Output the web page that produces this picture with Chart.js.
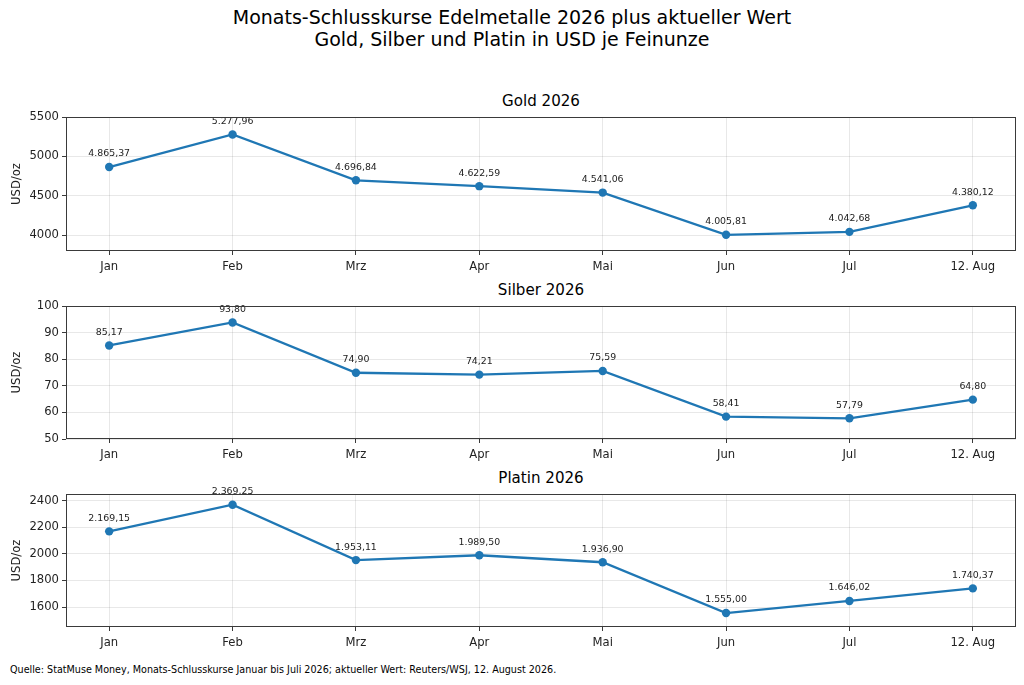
<!DOCTYPE html>
<html>
<head>
<meta charset="utf-8">
<script src="https://cdn.jsdelivr.net/npm/chart.js@4.4.1/dist/chart.umd.min.js"></script>
<style>
  html, body { margin:0; padding:0; background:#fff; }
  body { width:1024px; height:685px; position:relative; overflow:hidden; font-family:"DejaVu Sans", sans-serif; color:#000; }
  .txt { position:absolute; white-space:nowrap; line-height:1; }
  canvas { position:absolute; left:0; }
</style>
</head>
<body>
<div class="txt" style="left:0;width:1024px;text-align:center;top:8px;font-size:19px;">Monats-Schlusskurse Edelmetalle 2026 plus aktueller Wert</div>
<div class="txt" style="left:0;width:1024px;text-align:center;top:30px;font-size:19px;">Gold, Silber und Platin in USD je Feinunze</div>
<div class="txt" style="left:66px;width:950px;text-align:center;top:94px;font-size:15.1px;">Gold 2026</div>
<div class="txt" style="left:66px;width:950px;text-align:center;top:283px;font-size:15.1px;">Silber 2026</div>
<div class="txt" style="left:66px;width:950px;text-align:center;top:471px;font-size:15.1px;">Platin 2026</div>
<div class="txt" style="left:10px;top:665px;font-size:9.6px;">Quelle: StatMuse Money, Monats-Schlusskurse Januar bis Juli 2026; aktueller Wert: Reuters/WSJ, 12. August 2026.</div>

<canvas id="c1"></canvas>
<canvas id="c2"></canvas>
<canvas id="c3"></canvas>

<script>
// ---- data ----
const categories = ["Jan", "Feb", "Mrz", "Apr", "Mai", "Jun", "Jul", "12. Aug"];
const gold   = [4865.37, 5277.96, 4696.84, 4622.59, 4541.06, 4005.81, 4042.68, 4380.12];
const silber = [85.17, 93.80, 74.90, 74.21, 75.59, 58.41, 57.79, 64.80];
const platin = [2169.15, 2369.25, 1953.11, 1989.50, 1936.90, 1555.00, 1646.02, 1740.37];
const goldTicks   = [4000, 4500, 5000, 5500];
const silberTicks = [50, 60, 70, 80, 90, 100];
const platinTicks = [1600, 1800, 2000, 2200, 2400];

function fmtDE(v) {
  const parts = v.toFixed(2).split(".");
  parts[0] = parts[0].replace(/\B(?=(\d{3})+(?!\d))/g, ".");
  return parts[0] + "," + parts[1];
}

const PAD_TOP = 24, X_AXIS_H = 34, Y_AXIS_W = 66, RIGHT = 8;
const TICK_FONT = { family: "DejaVu Sans", size: 11.6 };

const framePlugin = {
  id: "frame",
  afterDraw(chart) {
    const a = chart.chartArea, ctx = chart.ctx;
    ctx.save();
    ctx.strokeStyle = "#3a3a3a";
    ctx.lineWidth = 1;
    ctx.strokeRect(Math.round(a.left) + 0.5, Math.round(a.top) + 0.5, Math.round(a.right - a.left) - 1, Math.round(a.bottom - a.top) - 1);
    ctx.restore();
  }
};
const labelPlugin = {
  id: "vlabels",
  afterDatasetsDraw(chart) {
    const ctx = chart.ctx;
    const meta = chart.getDatasetMeta(0);
    const data = chart.data.datasets[0].data;
    ctx.save();
    ctx.font = "9.4px 'DejaVu Sans'";
    ctx.fillStyle = "#222";
    ctx.textAlign = "center";
    ctx.textBaseline = "middle";
    meta.data.forEach((pt, i) => {
      ctx.fillText(fmtDE(data[i].y), pt.x, pt.y - 13);
    });
    ctx.restore();
  }
};

function makeChart(id, areaTop, areaH, values, yMin, yMax, yTicks) {
  const cv = document.getElementById(id);
  const h = PAD_TOP + areaH + X_AXIS_H;
  cv.style.top = (areaTop - PAD_TOP) + "px";
  cv.style.width = "1024px";
  cv.style.height = h + "px";
  cv.width = 1024; cv.height = h;
  new Chart(cv, {
    type: "line",
    data: {
      datasets: [{
        data: values.map((v, i) => ({ x: i, y: v })),
        borderColor: "#1f77b4",
        backgroundColor: "#1f77b4",
        borderWidth: 2.3,
        pointRadius: 4.2,
        pointHoverRadius: 4.2,
        pointBorderWidth: 0,
        tension: 0,
        clip: false
      }]
    },
    options: {
      responsive: false,
      animation: false,
      devicePixelRatio: 1,
      layout: { padding: { top: PAD_TOP, right: RIGHT, left: 0, bottom: 0 } },
      plugins: { legend: { display: false }, tooltip: { enabled: false }, title: { display: false } },
      scales: {
        x: {
          type: "linear",
          min: -0.35, max: 7.35,
          afterBuildTicks(s) { s.ticks = categories.map((c, i) => ({ value: i })); },
          afterFit(s) { s.height = X_AXIS_H; },
          ticks: {
            callback: (v) => categories[v],
            font: TICK_FONT,
            color: "#222",
            padding: 5,
            maxRotation: 0,
            autoSkip: false
          },
          grid: { color: "rgba(0,0,0,0.09)", tickColor: "#3a3a3a", tickLength: 4, drawTicks: true },
          border: { display: false }
        },
        y: {
          min: yMin, max: yMax,
          afterBuildTicks(s) { s.ticks = yTicks.map(v => ({ value: v })); },
          afterFit(s) { s.width = Y_AXIS_W; },
          ticks: {
            callback: (v) => String(v),
            font: TICK_FONT,
            color: "#222",
            padding: 3
          },
          title: {
            display: true,
            text: "USD/oz",
            font: TICK_FONT,
            color: "#222",
            padding: { top: 10, bottom: 0 }
          },
          grid: { color: "rgba(0,0,0,0.09)", tickColor: "#3a3a3a", tickLength: 4, drawTicks: true },
          border: { display: false }
        }
      }
    },
    plugins: [framePlugin, labelPlugin]
  });
}

makeChart("c1", 117, 134, gold, 3800, 5500, goldTicks);
makeChart("c2", 306, 133, silber, 50, 100, silberTicks);
makeChart("c3", 494, 133, platin, 1450, 2450, platinTicks);
</script>
</body>
</html>
